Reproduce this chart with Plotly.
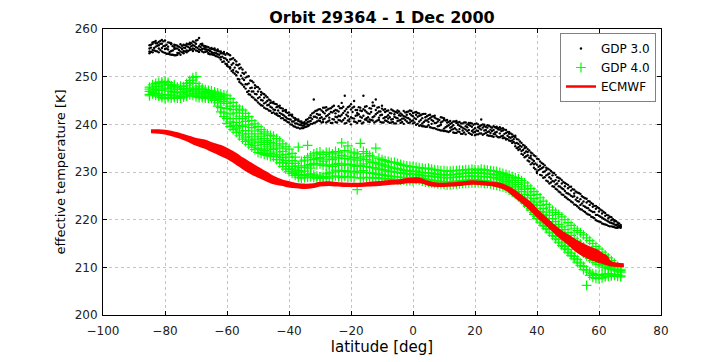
import plotly.graph_objects as go

# ---------------- data ----------------
scan_lat = [-85, -84, -83, -82, -81, -80, -79, -78, -77, -76, -75, -74, -73, -72, -71,
            -70, -69, -68, -67, -66, -65, -64, -63, -62, -61, -60, -59, -58, -57, -56,
            -55, -54, -53, -52, -51, -50, -49, -48, -47, -46, -45, -44, -43, -42, -41,
            -40, -39, -38, -37, -36, -35, -34, -33, -32, -31, -30, -29, -28, -27, -26,
            -25, -24, -23, -22, -21, -20, -19, -18, -17, -16, -15, -14, -13, -12, -11,
            -10, -9, -8, -7, -6, -5, -4, -3, -2, -1, 0, 1, 2, 3, 4,
            5, 6, 7, 8, 9, 10, 11, 12, 13, 14, 15, 16, 17, 18, 19,
            20, 21, 22, 23, 24, 25, 26, 27, 28, 29, 30, 31, 32, 33, 34,
            35, 36, 37, 38, 39, 40, 41, 42, 43, 44, 45, 46, 47, 48, 49,
            50, 51, 52, 53, 54, 55, 56, 57, 58, 59, 60, 61, 62, 63, 64,
            65, 66, 67]

half_lat = [-84.5, -83.5, -82.5, -81.5, -80.5, -79.5, -78.5, -77.5, -76.5, -75.5, -74.5, -73.5,
            -72.5, -71.5, -70.5, -69.5, -68.5, -67.5, -66.5, -65.5, -64.5, -63.5, -62.5, -61.5,
            -60.5, -59.5, -58.5, -57.5, -56.5, -55.5, -54.5, -53.5, -52.5, -51.5, -50.5, -49.5,
            -48.5, -47.5, -46.5, -45.5, -44.5, -43.5, -42.5, -41.5, -40.5, -39.5, -38.5, -37.5,
            -36.5, -35.5, -34.5, -33.5, -32.5, -31.5, -30.5, -29.5, -28.5, -27.5, -26.5, -25.5,
            -24.5, -23.5, -22.5, -21.5, -20.5, -19.5, -18.5, -17.5, -16.5, -15.5, -14.5, -13.5,
            -12.5, -11.5, -10.5, -9.5, -8.5, -7.5, -6.5, -5.5, -4.5, -3.5, -2.5, -1.5,
            -0.5, 0.5, 1.5, 2.5, 3.5, 4.5, 5.5, 6.5, 7.5, 8.5, 9.5, 10.5,
            11.5, 12.5, 13.5, 14.5, 15.5, 16.5, 17.5, 18.5, 19.5, 20.5, 21.5, 22.5,
            23.5, 24.5, 25.5, 26.5, 27.5, 28.5, 29.5, 30.5, 31.5, 32.5, 33.5, 34.5,
            35.5, 36.5, 37.5, 38.5, 39.5, 40.5, 41.5, 42.5, 43.5, 44.5, 45.5, 46.5,
            47.5, 48.5, 49.5, 50.5, 51.5, 52.5, 53.5, 54.5, 55.5, 56.5, 57.5, 58.5,
            59.5, 60.5, 61.5, 62.5, 63.5, 64.5, 65.5, 66.5]

# GDP 3.0 values at integer latitudes (scan_lat)
gdp3_t = [
    [255.3, 256.6, 255.9, 254.9], [256.9, 255.6, 257.2, 255.1], [255.4, 257.0, 256.3, 257.5],
    [257.3, 255.9, 255.1, 256.6], [256.0, 257.7, 255.3, 256.9], [255.0, 256.5, 257.6, 255.8],
    [257.2, 255.7, 254.8, 256.3], [254.6, 256.8, 255.4, 257.0], [256.2, 254.5, 255.8, 256.7],
    [255.0, 256.5, 254.6, 255.9], [256.8, 255.3, 256.1, 254.6], [255.4, 256.7, 254.9, 256.1],
    [256.9, 255.5, 256.4, 255.1], [255.6, 257.1, 256.0, 256.8], [257.4, 255.4, 256.6, 255.9],
    [255.5, 256.9, 257.6, 256.2], [258.1, 255.7, 256.4, 255.2], [256.6, 255.3, 256.9, 255.8],
    [255.2, 256.4, 255.7, 256.1], [256.2, 255.0, 255.6, 254.8], [254.7, 255.8, 255.2, 256.0],
    [255.6, 254.5, 255.9, 255.0], [254.2, 255.4, 254.7, 255.7], [255.3, 253.6, 254.9, 254.1],
    [253.2, 254.8, 253.9, 255.2], [254.9, 252.6, 253.5, 252.3], [252.0, 254.5, 253.6, 251.7],
    [253.9, 251.4, 252.8, 250.9], [250.3, 253.2, 251.1, 252.5], [252.6, 249.4, 251.7, 248.9],
    [248.3, 251.5, 249.6, 250.8], [250.9, 247.5, 249.8, 248.4], [247.0, 250.1, 248.6, 246.3],
    [249.1, 245.8, 247.7, 246.9], [245.2, 248.2, 246.4, 247.6], [247.8, 244.6, 246.9, 245.5],
    [244.0, 246.8, 245.1, 246.2], [246.3, 243.5, 245.6, 244.4], [243.2, 245.7, 244.0, 244.9],
    [245.0, 242.8, 243.7, 244.5], [242.5, 244.4, 243.1, 244.7], [244.2, 242.3, 243.6, 242.0],
    [241.7, 243.5, 242.4, 243.9], [243.3, 241.3, 242.8, 242.0], [240.8, 242.6, 241.5, 243.0],
    [242.5, 240.4, 241.9, 241.1], [239.9, 241.7, 240.6, 242.0], [241.3, 239.5, 240.2, 240.9],
    [239.3, 240.7, 240.0, 241.0], [240.6, 239.2, 239.8, 240.3], [239.4, 240.5, 239.9, 240.2],
    [241.1, 239.6, 240.5, 240.0], [240.1, 241.9, 240.7, 241.4], [242.5, 240.3, 245.2, 241.6],
    [240.6, 242.9, 241.4, 242.2], [243.2, 240.7, 242.0, 241.3], [241.0, 243.5, 242.6, 240.5],
    [242.9, 240.4, 241.7, 243.6], [240.8, 243.3, 242.2, 241.4], [243.7, 241.1, 240.3, 242.5],
    [241.6, 243.0, 240.5, 242.3], [240.9, 242.7, 243.8, 241.8], [243.4, 240.6, 244.5, 242.0],
    [241.3, 246.0, 242.8, 240.2], [242.5, 240.8, 243.6, 241.7], [240.0, 243.1, 241.5, 244.2],
    [243.7, 241.2, 244.9, 240.6], [241.9, 240.3, 243.0, 242.4], [240.7, 243.5, 241.6, 242.9],
    [246.0, 241.8, 240.4, 243.2], [242.6, 240.9, 243.8, 241.3], [241.0, 243.4, 242.2, 240.5],
    [243.9, 241.5, 244.6, 240.8], [245.2, 242.1, 240.6, 243.0], [241.4, 243.6, 240.9, 242.7],
    [243.3, 240.4, 242.0, 243.9], [240.8, 242.6, 241.5, 243.2], [242.9, 240.5, 241.9, 241.2],
    [241.0, 243.1, 242.3, 240.4], [242.7, 241.6, 240.2, 242.1], [240.7, 242.9, 241.3, 242.4],
    [242.3, 240.3, 241.8, 240.9], [241.2, 242.8, 240.1, 241.7], [242.6, 240.6, 241.4, 242.0],
    [240.4, 242.2, 241.0, 242.9], [242.4, 240.2, 241.7, 240.8], [239.9, 242.0, 241.1, 242.6],
    [241.8, 239.7, 240.6, 242.3], [240.2, 242.1, 241.3, 239.6], [242.2, 240.8, 239.5, 241.5],
    [239.8, 241.9, 240.5, 241.1], [241.6, 239.3, 240.9, 240.1], [239.2, 241.4, 240.3, 241.8],
    [241.1, 238.9, 240.6, 239.6], [239.9, 241.5, 238.7, 240.4], [240.9, 239.1, 241.3, 238.6],
    [238.5, 240.4, 239.6, 240.9], [240.7, 238.6, 239.3, 240.1], [239.0, 240.6, 238.3, 239.8],
    [240.3, 238.9, 240.7, 238.2], [238.4, 239.7, 240.5, 239.0], [240.2, 238.0, 239.3, 238.7],
    [238.9, 240.4, 237.9, 239.6], [239.9, 238.2, 240.3, 238.8], [237.8, 239.5, 238.6, 240.2],
    [240.1, 238.4, 239.2, 237.7], [238.6, 240.0, 237.9, 239.4], [239.8, 238.1, 241.0, 238.9],
    [238.0, 239.6, 238.7, 239.9], [239.3, 237.7, 239.8, 238.4], [238.2, 239.5, 237.6, 238.9],
    [239.6, 238.0, 238.8, 237.4], [237.5, 239.2, 238.4, 239.5], [238.9, 237.3, 239.4, 238.1],
    [237.6, 238.7, 237.1, 239.2], [238.8, 237.0, 238.2, 236.8], [236.6, 238.4, 237.3, 238.0],
    [237.9, 236.1, 237.4, 236.6], [235.4, 237.3, 236.0, 237.6], [236.8, 234.6, 235.9, 235.2],
    [233.8, 236.1, 235.3, 234.4], [235.5, 233.1, 234.0, 235.0], [232.4, 234.8, 233.5, 234.2],
    [234.1, 231.6, 232.9, 233.4], [230.9, 233.5, 232.3, 231.6], [232.8, 230.1, 231.5, 229.8],
    [229.4, 232.2, 230.6, 231.3], [231.7, 228.8, 230.0, 231.0], [228.2, 230.9, 229.3, 230.4],
    [230.5, 227.6, 228.9, 229.7], [227.0, 229.9, 228.1, 229.3], [229.4, 226.5, 228.3, 227.4],
    [225.9, 228.8, 227.0, 228.1], [228.3, 225.3, 226.6, 227.6], [224.8, 227.7, 226.0, 227.0],
    [227.3, 224.3, 225.5, 226.6], [223.8, 226.9, 225.0, 226.1], [226.3, 223.2, 224.9, 225.5],
    [222.8, 225.7, 223.9, 224.6], [225.4, 222.2, 224.3, 223.1], [221.8, 224.7, 222.9, 223.8],
    [224.4, 221.3, 222.5, 223.6], [221.0, 223.8, 222.0, 223.1], [223.3, 220.5, 221.6, 222.7],
    [219.9, 222.9, 221.0, 222.3], [222.4, 219.6, 220.8, 221.7], [219.2, 221.9, 220.4, 221.3],
    [221.4, 219.0, 220.0, 220.8], [218.7, 220.9, 219.6, 220.3], [220.5, 218.6, 219.3, 219.9],
    [218.4, 219.9, 219.0, 219.6], [219.4, 218.5, 219.0, 218.3], [218.6, 218.9, 218.3, 218.5],
]

# GDP 3.0 values at half-degree latitudes (half_lat)
gdp3_t_half = [
    [256.7, 255.2, 256.1], [255.5, 257.3, 256.0], [257.0, 255.3, 256.5], [255.6, 256.9, 257.5],
    [256.4, 255.1, 257.4], [254.8, 256.7, 255.9], [255.2, 257.1, 254.7], [256.4, 254.6, 255.5],
    [255.9, 254.5, 256.6], [254.9, 256.3, 255.6], [256.5, 255.1, 255.8], [255.3, 256.6, 256.0],
    [256.8, 255.4, 256.2], [255.7, 257.0, 256.4], [257.2, 255.8, 256.5], [256.0, 257.7, 255.4],
    [255.6, 256.8, 256.2], [256.5, 255.1, 255.9], [255.3, 256.3, 255.7], [255.9, 254.7, 255.4],
    [255.0, 255.8, 254.6], [255.5, 254.3, 254.9], [254.0, 255.3, 254.6], [254.9, 253.1, 254.2],
    [252.7, 254.6, 253.8], [254.7, 252.1, 253.1], [251.2, 253.7, 252.5], [253.5, 250.6, 251.9],
    [249.5, 252.4, 250.9], [251.9, 248.6, 250.2], [247.9, 250.6, 249.3], [250.0, 246.8, 248.4],
    [246.2, 249.2, 247.6], [248.8, 245.6, 246.9], [245.0, 247.9, 246.3], [247.4, 244.3, 245.7],
    [243.9, 246.5, 245.0], [246.0, 243.3, 244.6], [242.9, 245.2, 244.1], [244.6, 242.4, 243.5],
    [242.2, 244.3, 243.0], [243.8, 241.8, 242.9], [241.3, 243.4, 242.2], [242.9, 240.9, 241.8],
    [240.5, 242.4, 241.2], [242.0, 240.0, 241.0], [239.6, 241.4, 240.6], [241.0, 239.3, 240.2],
    [239.1, 240.6, 239.9], [240.3, 239.2, 239.7], [239.5, 240.9, 240.2], [241.4, 239.8, 240.6],
    [240.1, 242.3, 241.1], [242.8, 240.4, 241.6], [240.8, 243.1, 242.0], [242.9, 240.4, 241.5],
    [241.2, 243.5, 242.3], [243.1, 240.6, 241.9], [240.3, 242.6, 243.4], [242.8, 241.0, 243.9],
    [241.5, 240.4, 242.9], [243.4, 241.7, 240.8], [240.9, 242.4, 243.7], [243.2, 240.3, 242.0],
    [241.1, 243.8, 240.6], [242.6, 241.3, 243.5], [240.5, 243.0, 241.8], [243.6, 242.1, 240.7],
    [241.4, 240.2, 242.8], [242.9, 241.0, 243.7], [240.6, 242.3, 241.5], [243.3, 240.9, 242.6],
    [241.7, 243.9, 240.4], [242.4, 240.8, 243.5], [240.5, 242.7, 241.9], [243.0, 241.3, 240.4],
    [241.6, 242.8, 240.7], [240.3, 242.4, 241.5], [242.9, 241.1, 240.5], [241.4, 240.2, 242.6],
    [242.7, 240.8, 241.9], [240.5, 242.0, 241.2], [242.5, 240.9, 241.6], [241.3, 242.7, 240.3],
    [240.7, 241.9, 242.8], [242.5, 240.4, 241.3], [240.1, 241.6, 242.4], [241.9, 239.8, 240.9],
    [240.5, 242.2, 239.6], [241.7, 239.5, 240.8], [239.4, 241.3, 242.0], [240.7, 239.2, 241.7],
    [241.2, 239.0, 240.3], [238.8, 240.9, 239.7], [240.6, 238.7, 241.4], [239.4, 240.8, 238.6],
    [240.5, 238.4, 239.8], [238.9, 240.3, 239.5], [240.6, 238.2, 239.2], [238.5, 239.9, 240.4],
    [239.5, 238.0, 240.2], [238.3, 240.4, 239.1], [240.0, 238.6, 239.4], [238.0, 239.7, 240.3],
    [239.9, 238.3, 238.9], [238.7, 240.2, 237.9], [239.6, 238.1, 239.1], [237.8, 239.3, 240.0],
    [239.5, 238.2, 238.8], [238.5, 239.7, 237.6], [239.3, 237.5, 238.6], [237.9, 239.4, 238.3],
    [238.9, 237.3, 239.2], [237.5, 238.6, 239.1], [238.9, 237.2, 238.0], [236.9, 238.4, 237.6],
    [238.1, 236.5, 237.2], [236.3, 237.5, 236.9], [236.9, 235.0, 236.1], [234.8, 236.4, 235.5],
    [235.7, 233.6, 234.6], [233.3, 235.2, 234.3], [234.5, 232.2, 233.0], [231.9, 233.9, 232.6],
    [233.3, 230.6, 231.8], [230.4, 232.7, 231.1], [231.9, 229.3, 230.8], [228.9, 231.4, 230.1],
    [230.7, 228.0, 229.5], [227.8, 230.2, 228.6], [229.8, 226.9, 228.0], [226.3, 228.9, 227.6],
    [228.6, 225.7, 226.9], [225.2, 227.9, 226.4], [227.5, 224.6, 225.6], [224.1, 226.9, 225.3],
    [226.4, 223.6, 224.8], [223.1, 225.9, 224.2], [225.6, 222.5, 223.8], [222.1, 224.9, 223.4],
    [224.5, 221.6, 222.7], [221.1, 223.9, 222.4], [223.5, 220.6, 221.8], [220.3, 222.9, 221.6],
    [222.6, 219.7, 221.0], [219.5, 222.1, 220.6], [221.6, 219.1, 220.2], [218.9, 221.0, 219.8],
    [220.6, 218.6, 219.4], [218.5, 220.1, 219.2], [219.7, 218.3, 218.9], [218.4, 219.2, 218.7],
]

# GDP 4.0 values at integer latitudes (scan_lat)
gdp4_t = [
    [246.3, 247.8, 246.9, 247.4, 246.0], [247.6, 246.4, 248.3, 247.0, 246.7], [248.0, 246.5, 247.3, 246.1, 248.6],
    [247.9, 246.2, 248.8, 247.1, 245.9], [248.5, 246.0, 247.4, 245.6, 248.9], [249.0, 245.4, 247.6, 246.3, 248.2],
    [248.4, 245.6, 247.2, 246.0, 248.8], [248.1, 245.5, 246.9, 246.2, 247.6], [247.9, 245.6, 246.7, 245.9, 248.3],
    [247.8, 245.5, 246.6, 246.1, 247.3], [248.0, 245.5, 246.8, 245.8, 247.4], [247.9, 245.7, 246.7, 246.2, 247.5],
    [248.2, 245.9, 247.0, 246.4, 248.6], [248.7, 246.2, 247.4, 246.8, 249.2], [249.3, 246.1, 247.6, 247.0, 249.8],
    [250.0, 245.8, 247.3, 246.5, 248.6], [248.0, 245.6, 246.8, 246.2, 247.4], [247.6, 245.6, 246.6, 246.0, 247.2],
    [247.3, 245.5, 246.4, 245.8, 246.9], [247.1, 245.5, 246.2, 245.7, 246.7], [247.0, 245.4, 246.0, 245.6, 246.5],
    [246.8, 245.0, 245.8, 245.3, 246.3], [246.6, 244.5, 245.5, 243.8, 246.1], [246.4, 243.5, 245.2, 242.6, 245.8],
    [246.2, 242.4, 244.8, 241.6, 245.5], [246.0, 241.2, 244.4, 240.2, 243.3], [245.4, 240.5, 243.8, 239.5, 242.2],
    [244.6, 239.8, 243.1, 238.9, 241.2], [243.8, 239.2, 242.4, 238.3, 240.4], [243.2, 238.6, 241.7, 237.6, 239.8],
    [243.0, 238.0, 241.2, 236.9, 239.5], [242.3, 237.3, 240.6, 236.4, 238.7], [241.6, 236.7, 239.9, 235.8, 238.0],
    [240.8, 236.1, 239.3, 235.2, 237.4], [240.1, 235.6, 238.6, 234.7, 236.9], [239.5, 235.0, 238.0, 234.1, 236.5],
    [238.9, 234.8, 237.5, 233.9, 236.2], [238.4, 234.5, 237.0, 233.7, 235.8], [238.0, 234.2, 236.6, 233.5, 235.4],
    [237.7, 233.9, 236.2, 233.3, 235.0], [237.5, 233.6, 235.9, 233.2, 234.7], [237.0, 233.2, 235.5, 232.6, 234.2],
    [236.5, 232.6, 235.0, 231.9, 233.6], [235.9, 231.9, 234.3, 231.2, 233.0], [235.3, 231.2, 233.7, 230.6, 232.4],
    [234.8, 230.6, 233.1, 230.1, 231.8], [233.9, 230.2, 232.4, 229.7, 231.2], [233.1, 229.8, 231.8, 229.3, 230.6],
    [235.2, 229.5, 231.3, 228.9, 230.3], [232.3, 229.2, 230.9, 228.7, 230.0], [232.5, 229.3, 231.0, 228.8, 230.2],
    [233.0, 229.5, 231.3, 228.9, 235.6], [233.4, 229.6, 231.6, 229.0, 230.8], [233.8, 229.4, 231.8, 228.8, 232.6],
    [234.0, 229.2, 231.5, 228.7, 232.8], [234.2, 229.0, 231.7, 228.8, 233.0], [233.7, 229.1, 231.4, 228.7, 232.3],
    [234.1, 228.9, 231.3, 229.6, 232.7], [234.1, 228.7, 231.5, 229.8, 233.2], [233.8, 229.0, 231.2, 230.0, 232.6],
    [234.3, 229.2, 231.6, 230.4, 232.9], [234.0, 229.0, 231.8, 230.1, 233.1], [236.1, 228.8, 231.4, 230.2, 233.5],
    [234.5, 229.1, 231.7, 230.3, 232.8], [235.5, 228.9, 231.5, 230.0, 233.3], [234.2, 229.0, 231.6, 230.2, 232.7],
    [234.0, 228.8, 231.3, 230.1, 233.0], [233.8, 226.3, 231.2, 229.8, 232.5], [236.0, 228.7, 231.4, 230.0, 232.9],
    [234.3, 228.9, 231.7, 230.3, 233.2], [233.9, 228.8, 231.2, 229.9, 232.6], [233.5, 228.9, 231.0, 229.8, 232.3],
    [233.2, 228.7, 230.9, 229.7, 232.0], [235.0, 228.8, 230.8, 229.6, 231.9], [232.9, 228.7, 230.6, 229.5, 231.7],
    [232.6, 228.6, 230.5, 229.4, 231.5], [232.4, 228.6, 230.4, 229.3, 231.3], [232.2, 228.5, 230.2, 229.2, 231.1],
    [232.0, 228.5, 230.1, 229.1, 231.0], [232.0, 228.4, 230.0, 229.0, 230.8], [231.8, 228.4, 229.9, 229.0, 230.7],
    [231.6, 228.3, 229.8, 228.9, 230.5], [231.4, 228.3, 229.7, 228.8, 230.4], [231.3, 228.2, 229.6, 228.8, 230.3],
    [231.2, 228.2, 229.6, 228.7, 230.2], [231.1, 228.2, 229.5, 228.7, 230.1], [231.0, 228.4, 229.5, 228.9, 230.2],
    [230.9, 228.3, 229.4, 228.8, 230.0], [230.8, 228.1, 229.3, 228.6, 229.9], [230.7, 227.9, 229.2, 228.5, 229.8],
    [230.8, 227.9, 229.2, 228.4, 229.8], [230.6, 227.7, 229.1, 228.3, 229.7], [230.5, 227.6, 229.0, 228.2, 229.6],
    [230.4, 227.5, 228.9, 228.1, 229.5], [230.3, 227.5, 228.9, 228.0, 229.5], [230.3, 227.4, 228.8, 228.0, 229.4],
    [230.2, 227.3, 228.8, 227.9, 229.4], [230.2, 227.3, 228.8, 227.9, 229.4], [230.3, 227.4, 228.9, 228.0, 229.5],
    [230.3, 227.5, 228.9, 228.1, 229.5], [230.4, 227.5, 229.0, 228.1, 229.6], [230.4, 227.6, 229.0, 228.2, 229.7],
    [230.5, 227.6, 229.1, 228.3, 229.7], [230.5, 227.7, 229.1, 228.3, 229.8], [230.6, 227.7, 229.2, 228.4, 229.8],
    [230.5, 227.8, 229.1, 228.4, 229.8], [230.4, 227.8, 229.0, 228.3, 229.7], [230.6, 227.7, 229.1, 228.2, 229.8],
    [230.5, 227.6, 229.0, 228.2, 229.7], [230.4, 227.6, 229.0, 228.1, 229.6], [230.3, 227.5, 228.9, 228.0, 229.6],
    [230.2, 227.3, 228.8, 227.9, 229.5], [230.1, 227.2, 228.7, 227.8, 229.4], [229.9, 227.0, 228.5, 227.6, 229.2],
    [229.7, 226.9, 228.3, 227.4, 229.0], [229.5, 226.6, 228.0, 227.1, 228.8], [229.3, 226.2, 227.7, 226.7, 228.5],
    [229.0, 225.8, 227.3, 226.2, 228.2], [228.8, 225.3, 226.9, 225.7, 227.8], [228.6, 224.8, 226.4, 225.1, 227.4],
    [228.2, 224.2, 225.9, 224.5, 226.9], [227.7, 223.5, 225.3, 223.8, 226.4], [227.1, 222.8, 224.6, 223.0, 225.8],
    [226.5, 222.0, 223.9, 222.3, 225.1], [225.9, 221.1, 223.1, 221.5, 224.4], [225.3, 220.2, 222.4, 220.7, 223.7],
    [224.6, 219.5, 221.7, 220.0, 223.0], [223.9, 218.8, 221.0, 219.3, 222.3], [223.2, 218.1, 220.3, 218.6, 221.6],
    [222.6, 217.4, 219.6, 217.9, 220.9], [222.0, 216.7, 218.9, 217.2, 220.2], [221.5, 216.0, 218.3, 216.5, 219.6],
    [221.1, 215.3, 217.8, 215.8, 219.0], [220.6, 214.6, 217.2, 215.1, 218.5], [220.0, 213.9, 216.6, 214.4, 217.9],
    [219.4, 213.2, 216.0, 213.7, 217.3], [218.8, 212.5, 215.4, 213.0, 216.7], [218.2, 211.8, 214.8, 212.3, 216.1],
    [217.7, 211.1, 214.2, 211.6, 215.5], [217.3, 210.4, 213.6, 210.9, 214.9], [216.8, 209.5, 213.0, 210.2, 214.3],
    [216.2, 206.2, 212.4, 209.4, 213.7], [215.6, 208.3, 211.9, 209.0, 213.1], [215.0, 207.9, 211.4, 208.7, 212.6],
    [214.4, 207.7, 211.0, 208.5, 212.1], [213.8, 207.6, 210.6, 208.3, 211.6], [213.2, 207.8, 210.3, 208.5, 211.2],
    [212.6, 208.0, 210.0, 208.6, 210.8], [212.0, 208.1, 209.8, 208.7, 210.5], [211.4, 208.2, 209.6, 208.6, 210.2],
    [210.8, 208.3, 209.4, 208.5, 209.9], [210.2, 208.1, 209.2, 208.4, 209.6], [209.6, 208.0, 209.0, 208.2, 209.3],
]

ecmwf_lat = [-84.5, -82, -80, -78, -75, -72, -70, -67, -65, -62, -60, -57, -55, -52, -50,
             -47, -45, -42, -40, -37, -35, -32, -30, -27, -24, -20, -17, -14, -10, -7,
             -4, -2, 0, 2, 4, 6, 10, 13, 16, 19, 22, 25, 28, 30, 32,
             35, 38, 40, 43, 45, 47, 50, 53, 56, 59, 61, 62.5, 63.5, 65, 68]
ecmwf_lo = [238.4, 238.3, 238.1, 237.8, 237.2, 236.4, 235.8, 235.1, 234.5, 233.6, 233.0, 231.8, 230.9, 229.7, 229.1,
            228.2, 227.7, 227.3, 227.0, 226.8, 226.7, 226.9, 227.2, 227.3, 227.2, 227.1, 227.1, 227.2, 227.4, 227.6,
            227.7, 227.9, 227.9, 227.9, 227.6, 227.2, 227.1, 227.2, 227.4, 227.6, 227.5, 227.3, 226.9, 226.4, 225.4,
            223.8, 222.1, 220.8, 219.0, 217.8, 216.6, 215.0, 213.3, 212.2, 211.4, 211.0, 210.7, 210.5, 210.4, 210.2]
ecmwf_hi = [238.7, 238.7, 238.6, 238.4, 237.9, 237.3, 236.9, 236.5, 236.0, 235.4, 234.8, 233.7, 232.8, 231.6, 230.8,
            229.7, 228.9, 228.1, 227.8, 227.4, 227.3, 227.4, 227.7, 227.8, 227.6, 227.5, 227.5, 227.7, 227.9, 228.1,
            228.2, 228.5, 228.6, 228.6, 228.1, 227.7, 227.5, 227.6, 227.8, 228.0, 227.9, 227.7, 227.5, 227.0, 226.3,
            224.9, 223.4, 222.0, 220.2, 219.0, 217.9, 216.6, 215.4, 214.4, 213.6, 212.8, 212.2, 211.2, 210.8, 210.6]

title_text = "Orbit 29364 - 1 Dec 2000"
x_label = "latitude [deg]"
y_label = "effective temperature [K]"
x_ticks = [-100, -80, -60, -40, -20, 0, 20, 40, 60, 80]
y_ticks = [200, 210, 220, 230, 240, 250, 260]

# ---------------- build figure ----------------
g3x, g3y = [], []
for lat, vals in zip(scan_lat, gdp3_t):
    for v in vals:
        g3x.append(lat)
        g3y.append(v)
for lat, vals in zip(half_lat, gdp3_t_half):
    for v in vals:
        g3x.append(lat)
        g3y.append(v)
g4x, g4y = [], []
for lat, vals in zip(scan_lat, gdp4_t):
    for v in vals:
        g4x.append(lat)
        g4y.append(v)

RED = "#ff0000"
GREEN = "#00ff00"
FONT = "DejaVu Sans, Liberation Sans, Arial, sans-serif"

fig = go.Figure()
fig.add_trace(go.Scatter(x=g3x, y=g3y, mode="markers", name="GDP 3.0",
                         marker=dict(color="black", size=2.4, symbol="circle", line=dict(width=0))))
fig.add_trace(go.Scatter(x=g4x, y=g4y, mode="markers", name="GDP 4.0",
                         marker=dict(symbol="cross-thin", size=7, color=GREEN,
                                     line=dict(width=1.2, color=GREEN))))
fig.add_trace(go.Scatter(x=ecmwf_lat, y=ecmwf_lo, mode="lines", name="ECMWF",
                         line=dict(color=RED, width=2.5, shape="spline")))
fig.add_trace(go.Scatter(x=ecmwf_lat, y=ecmwf_hi, mode="lines", name="ECMWF",
                         showlegend=False, fill="tonexty", fillcolor=RED,
                         line=dict(color=RED, width=2.5, shape="spline")))

axis_common = dict(showline=True, linecolor="black", linewidth=1, mirror="ticks",
                   ticks="inside", ticklen=4, tickcolor="black",
                   showgrid=True, gridcolor="#c4c4c4", griddash="dot", gridwidth=1,
                   zeroline=False, tickfont=dict(family=FONT, size=12, color="#222222"))

fig.update_xaxes(range=[-100, 80], tickvals=x_ticks, ticklabelstandoff=5,
                 title=dict(text=x_label, font=dict(family=FONT, size=15, color="black"), standoff=1),
                 **axis_common)
fig.update_yaxes(range=[200, 260], tickvals=y_ticks, ticklabelstandoff=2,
                 title=dict(text=y_label, font=dict(family=FONT, size=13, color="black"), standoff=6),
                 **axis_common)

fig.update_layout(
    width=717, height=362,
    margin=dict(l=103, r=56, t=29, b=38),
    paper_bgcolor="white", plot_bgcolor="white",
    title=dict(text="<b>" + title_text + "</b>", x=0.5, xref="paper", xanchor="center",
               y=0.953, yref="container", yanchor="middle",
               font=dict(family=FONT, size=16, color="black")),
    legend=dict(x=0.991, y=0.986, xanchor="right", yanchor="top", traceorder="normal",
                bgcolor="white", bordercolor="#808080", borderwidth=1,
                font=dict(family=FONT, size=12, color="black"),
                tracegroupgap=0, itemwidth=30),
    showlegend=True,
)

fig.write_html("out.html")
